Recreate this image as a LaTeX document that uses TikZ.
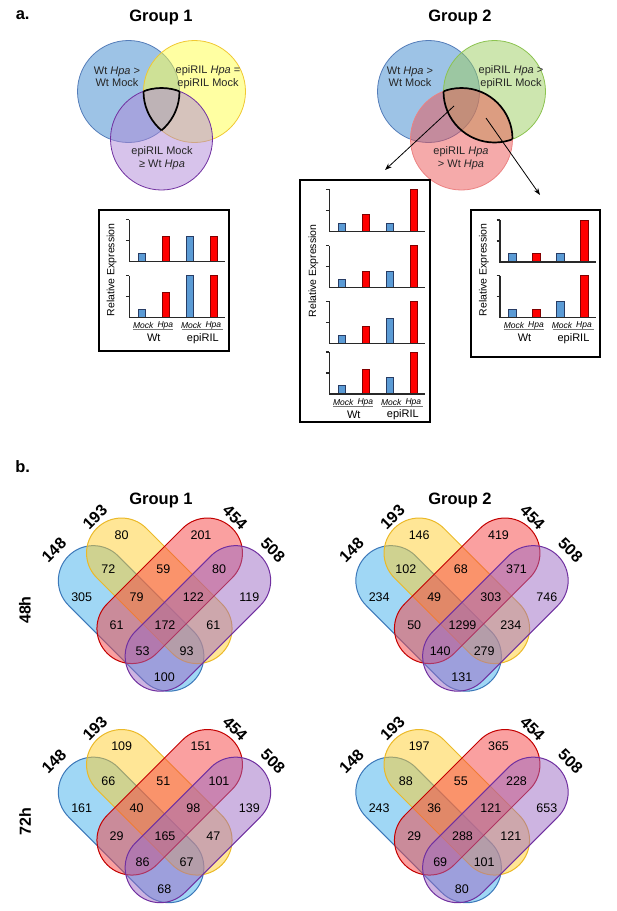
\documentclass[tikz,border=0pt]{standalone}
\usepackage{fontspec}
\setmainfont{Liberation Sans}
\usetikzlibrary{arrows.meta}

\definecolor{vblueF}{RGB}{60,135,205}
\definecolor{vblueD}{RGB}{85,125,185}
\definecolor{vyelF}{RGB}{255,255,70}
\definecolor{vyelD}{RGB}{240,200,50}
\definecolor{vpurF}{RGB}{175,135,215}
\definecolor{vpurD}{RGB}{112,48,160}
\definecolor{vgrnF}{RGB}{155,205,95}
\definecolor{vgrnD}{RGB}{140,195,80}
\definecolor{vredF}{RGB}{235,85,85}
\definecolor{vredD}{RGB}{235,130,130}
\definecolor{barB}{RGB}{91,155,213}
\definecolor{barBd}{RGB}{40,60,100}
\definecolor{barR}{RGB}{255,0,0}
\definecolor{barRd}{RGB}{130,0,0}
\definecolor{axisC}{RGB}{40,40,40}
\definecolor{ulC}{RGB}{120,120,120}
\definecolor{cbF}{RGB}{65,175,235}
\definecolor{cbD}{RGB}{60,120,185}
\definecolor{cyF}{RGB}{255,205,45}
\definecolor{cyD}{RGB}{235,185,40}
\definecolor{crF}{RGB}{245,65,65}
\definecolor{crD}{RGB}{195,0,0}
\definecolor{cpF}{RGB}{155,105,195}
\definecolor{cpD}{RGB}{112,48,160}

\tikzset{
 ttl/.style={font=\fontsize{16.5}{18}\selectfont\bfseries, inner sep=0},
 vtext/.style={font=\fontsize{11}{12.5}\selectfont, align=center, inner sep=0, text=black!85},
 vcirc/.style={fill=#1F, fill opacity=0.5, draw=#1D, line width=0.8},
 hilite/.style={draw=black, line width=1.7},
 arr/.style={-{Stealth[length=7,width=5]}, line width=0.8},
 chartbox/.style={draw=black, line width=1.2, inner sep=0},
 axisln/.style={draw=axisC, line width=1.2},
 bbar/.style={fill=barB, draw=barBd, line width=0.6},
 rbar/.style={fill=barR, draw=barRd, line width=0.6},
 ylab/.style={font=\fontsize{10.5}{12}\selectfont, rotate=90, inner sep=0},
 tlab/.style={font=\fontsize{8.5}{9}\selectfont\itshape, inner sep=0},
 glab/.style={font=\fontsize{11}{12}\selectfont, inner sep=0},
 uline/.style={draw=ulC, line width=0.9},
 caps/.style={fill=#1F, fill opacity=0.5, draw=#1D, line width=1},
 num/.style={font=\fontsize{12.5}{14}\selectfont, inner sep=0},
 setlab/.style={font=\fontsize{16}{18}\selectfont\bfseries, inner sep=0},
}

% chart: axis x, baseline y, four bar fractions
\newcommand\relchart[6]{%
 \draw[bbar] (#1+8.5,#2) rectangle (#1+16,#2-42*#3);
 \draw[rbar] (#1+32.5,#2) rectangle (#1+40,#2-42*#4);
 \draw[bbar] (#1+56.5,#2) rectangle (#1+64,#2-42*#5);
 \draw[rbar] (#1+80.5,#2) rectangle (#1+88,#2-42*#6);
 \draw[axisln] (#1,#2-42) -- (#1,#2) -- (#1+96,#2);
 \draw[axisln] (#1-3.5,#2-42) -- (#1,#2-42) (#1-3.5,#2-21) -- (#1,#2-21);
}
\newcommand\chartlabels[3]{%
 \node[tlab] (#1-m1) at (#2+14,#3+8) {Mock};
 \node[tlab] (#1-h1) at (#2+36,#3+8) {Hpa};
 \node[tlab] (#1-m2) at (#2+62,#3+8) {Mock};
 \node[tlab] (#1-h2) at (#2+84,#3+8) {Hpa};
 \draw[uline] (#2+3.5,#3+12) -- (#2+43.5,#3+12);
 \draw[uline] (#2+52.5,#3+12) -- (#2+93.5,#3+12);
 \node[glab] (#1-wt) at (#2+24.5,#3+20.5) {Wt};
 \node[glab] (#1-ep) at (#2+73.5,#3+20.5) {epiRIL};
}
\newcommand\capsh[4]{%
 \begin{scope}[shift={(#2,#3)}, rotate=#4]
 \filldraw[caps=#1] (-53.4,-35) -- (53.4,-35) arc[start angle=-90, end angle=90, radius=35]
   -- (-53.4,35) arc[start angle=90, end angle=270, radius=35] -- cycle;
 \end{scope}}
\def\px{{121.7,201,108.3,163.3,219,81.7,136.7,193.3,249.3,116.7,165,213.3,142.7,186.7,164.3}}
\def\py{{535,535,569.3,569.3,569.3,596.7,596.7,596.7,596.7,625,625,625,650.7,650.7,677.3}}
\newcommand\fourvenn[4]{%
 \begin{scope}[shift={(#2,#3)}]
 \capsh{cb}{131.1}{618.4}{-45}
 \capsh{cy}{159.3}{590.8}{-45}
 \capsh{cr}{169.7}{590.8}{45}
 \capsh{cp}{197.9}{618.4}{45}
 \foreach \v [count=\i from 0] in {#4} {
   \pgfmathsetmacro\xx{\px[\i]}\pgfmathsetmacro\yy{\py[\i]}
   \node[num] (#1-n\i) at (\xx,\yy) {\v};}
 \node[setlab, rotate=45] (#1-s1) at (54,550) {148};
 \node[setlab, rotate=45] (#1-s2) at (95,517) {193};
 \node[setlab, rotate=-45] (#1-s3) at (235,517.5) {454};
 \node[setlab, rotate=-45] (#1-s4) at (273,550) {508};
 \end{scope}}

\begin{document}
\begin{tikzpicture}[x=1pt,y=-1pt]
\useasboundingbox (0,0) rectangle (617,911);

% ---------------- part a ----------------
\node[ttl] (la) at (22.7,15) {a.};
\node[ttl] (ga1) at (161,17.3) {Group 1};
\node[ttl] (ga2) at (460,17.3) {Group 2};

% Group 1 Venn
\filldraw[vcirc=vblue] (128.5,91.5) circle[radius=51];
\filldraw[vcirc=vyel] (194.5,91.5) circle[radius=51];
\filldraw[vcirc=vpur] (161.5,139) circle[radius=51];
\begin{scope}\clip (128.5,91.5) circle[radius=51]; \clip (194.5,91.5) circle[radius=51];
 \draw[hilite] (161.5,139) circle[radius=51]; \end{scope}
\begin{scope}\clip (128.5,91.5) circle[radius=51]; \clip (161.5,139) circle[radius=51];
 \draw[hilite] (194.5,91.5) circle[radius=51]; \end{scope}
\begin{scope}\clip (194.5,91.5) circle[radius=51]; \clip (161.5,139) circle[radius=51];
 \draw[hilite] (128.5,91.5) circle[radius=51]; \end{scope}
\node[vtext] (g1t1) at (117,77) {Wt \textit{Hpa} >\\Wt Mock};
\node[vtext] (g1t2) at (208,77) {epiRIL \textit{Hpa} =\\epiRIL Mock};
\node[vtext] (g1t3) at (162,158) {epiRIL Mock\\≥ Wt \textit{Hpa}};

% Group 2 Venn
\filldraw[vcirc=vblue] (428.5,91.5) circle[radius=51];
\filldraw[vcirc=vgrn] (494.5,91.5) circle[radius=51];
\filldraw[vcirc=vred] (461.5,139) circle[radius=51];
\begin{scope}\clip (494.5,91.5) circle[radius=51];
 \draw[hilite] (461.5,139) circle[radius=51]; \end{scope}
\begin{scope}\clip (461.5,139) circle[radius=51];
 \draw[hilite] (494.5,91.5) circle[radius=51]; \end{scope}
\node[vtext] (g2t1) at (410,77) {Wt \textit{Hpa} >\\Wt Mock};
\node[vtext] (g2t2) at (511,77) {epiRIL \textit{Hpa} >\\epiRIL Mock};
\node[vtext] (g2t3) at (461,158) {epiRIL \textit{Hpa}\\> Wt \textit{Hpa}};

\coordinate (a1s) at (454,106);
\coordinate (a1e) at (385,170);
\coordinate (a2s) at (486,118);
\coordinate (a2e) at (540,195);
\draw[arr] (a1s) -- (a1e);
\draw[arr] (a2s) -- (a2e);

% chart boxes
\node[chartbox, minimum width=130, minimum height=141] (box1) at (164,280.5) {};
\node[chartbox, minimum width=130, minimum height=242] (box2) at (365,301) {};
\node[chartbox, minimum width=129, minimum height=147] (box3) at (535.5,283.5) {};

\relchart{129.3}{261.7}{0.2}{0.6}{0.6}{0.6}
\relchart{129.3}{317.7}{0.2}{0.6}{1}{1}
\chartlabels{c1}{129.3}{317.7}
\node[ylab] (y1) at (111.7,270) {Relative Expression};

\relchart{329.3}{231.3}{0.2}{0.4}{0.2}{1}
\relchart{329.3}{287.7}{0.2}{0.4}{0.4}{1}
\relchart{329.3}{343.3}{0.2}{0.4}{0.6}{1}
\relchart{329.3}{394}{0.2}{0.6}{0.4}{1}
\chartlabels{c2}{329.3}{394}
\node[ylab] (y2) at (313.3,271) {Relative Expression};

\relchart{500}{262}{0.2}{0.2}{0.2}{1}
\relchart{500}{317.7}{0.2}{0.2}{0.4}{1}
\chartlabels{c3}{500}{317.7}
\node[ylab] (y3) at (484,270) {Relative Expression};

% ---------------- part b ----------------
\node[ttl] (lb) at (22.7,467) {b.};
\node[ttl] (gb1) at (161,500) {Group 1};
\node[ttl] (gb2) at (460,500) {Group 2};
\node[setlab, rotate=90] (r48) at (25,610) {48h};
\node[setlab, rotate=90] (r72) at (25,821.5) {72h};

\fourvenn{v1}{0}{0}{80,201,72,59,80,305,79,122,119,61,172,61,53,93,100}
\fourvenn{v2}{297.5}{0}{146,419,102,68,371,234,49,303,746,50,1299,234,140,279,131}
\fourvenn{v3}{0}{211.5}{109,151,66,51,101,161,40,98,139,29,165,47,86,67,68}
\fourvenn{v4}{297.5}{211.5}{197,365,88,55,228,243,36,121,653,29,288,121,69,101,80}
\end{tikzpicture}
\end{document}
